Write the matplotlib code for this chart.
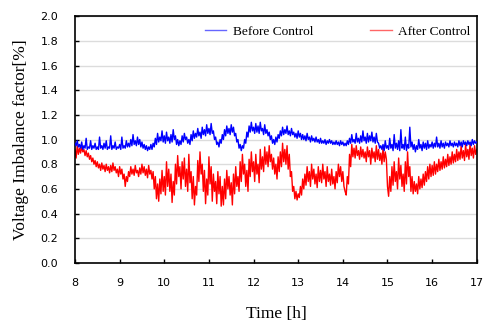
import numpy as np
import matplotlib
matplotlib.use("Agg")
import matplotlib.pyplot as plt

# Voltage imbalance factor [%], sampled every 0.025 h from 8:00 to 17:00
before_control = [
    0.97, 0.95, 0.99, 0.94, 0.96, 0.93, 0.98, 0.92, 0.95, 0.93, 1.01, 0.92, 0.94, 0.93, 0.99, 0.92, 0.95, 0.93, 0.97, 0.92,
    0.94, 0.92, 1.02, 0.93, 0.95, 0.92, 0.97, 0.93, 0.99, 0.92, 0.94, 0.93, 1.03, 0.92, 0.95, 0.93, 0.98, 0.92, 0.94, 0.93,
    0.96, 0.92, 1.02, 0.93, 0.95, 0.93, 0.99, 0.94, 0.97, 0.94, 1.00, 0.95, 1.04, 0.96, 0.99, 0.95, 1.02, 0.96, 1.00, 0.94,
    0.98, 0.93, 0.96, 0.92, 0.95, 0.91, 0.94, 0.92, 0.96, 0.92, 0.97, 0.94, 1.01, 0.96, 1.05, 0.98, 1.02, 0.99, 1.07, 0.98,
    1.03, 0.97, 1.06, 0.99, 1.02, 0.97, 1.04, 0.98, 1.08, 1.00, 1.03, 0.96, 1.00, 0.95, 0.99, 0.96, 1.03, 0.98, 1.05, 1.00,
    1.02, 0.97, 1.00, 0.96, 1.04, 0.99, 1.07, 1.01, 1.05, 1.02, 1.09, 1.03, 1.06, 1.01, 1.10, 1.04, 1.08, 1.03, 1.12, 1.05,
    1.09, 1.04, 1.13, 1.05, 1.07, 1.00, 1.02, 0.96, 0.98, 0.94, 1.00, 0.97, 1.04, 1.00, 1.08, 1.03, 1.11, 1.05, 1.09, 1.04,
    1.12, 1.06, 1.10, 1.03, 1.05, 0.98, 1.00, 0.93, 0.96, 0.91, 0.95, 0.93, 1.00, 0.97, 1.06, 1.02, 1.11, 1.06, 1.14, 1.07,
    1.10, 1.05, 1.13, 1.06, 1.11, 1.05, 1.14, 1.07, 1.09, 1.04, 1.12, 1.05, 1.08, 1.03, 1.06, 1.00, 1.03, 0.97, 1.00, 0.96,
    1.02, 0.98, 1.04, 1.01, 1.07, 1.03, 1.10, 1.04, 1.08, 1.05, 1.11, 1.04, 1.07, 1.03, 1.09, 1.04, 1.06, 1.02, 1.05, 1.01,
    1.07, 1.02, 1.05, 1.00, 1.04, 1.00, 1.03, 0.99, 1.05, 1.00, 1.02, 0.98, 1.03, 0.99, 1.01, 0.98, 1.02, 0.98, 1.00, 0.97,
    1.01, 0.97, 0.99, 0.97, 1.00, 0.96, 0.99, 0.97, 1.00, 0.97, 0.99, 0.96, 0.98, 0.96, 0.99, 0.96, 0.98, 0.95, 0.99, 0.96,
    0.98, 0.95, 0.97, 0.95, 0.99, 0.96, 1.01, 0.97, 1.04, 0.98, 1.00, 0.97, 1.05, 0.98, 1.01, 0.97, 1.03, 0.98, 1.07, 0.99,
    1.02, 0.97, 1.05, 0.98, 1.03, 0.99, 1.06, 0.98, 1.02, 0.97, 1.05, 0.98, 0.97, 0.93, 0.95, 0.92, 0.96, 0.91, 0.99, 0.93,
    0.95, 0.92, 1.01, 0.93, 0.96, 0.91, 1.04, 0.93, 0.97, 0.92, 0.99, 0.91, 1.08, 0.93, 0.96, 0.92, 1.02, 0.91, 0.96, 0.93,
    1.10, 0.94, 0.98, 0.92, 0.96, 0.90, 0.95, 0.92, 1.00, 0.93, 0.96, 0.91, 0.98, 0.93, 0.97, 0.92, 0.99, 0.93, 0.96, 0.94,
    0.98, 0.93, 0.97, 0.94, 1.02, 0.94, 0.97, 0.93, 0.99, 0.94, 0.97, 0.93, 0.98, 0.95, 0.97, 0.94, 0.99, 0.95, 0.97, 0.94,
    0.98, 0.95, 0.97, 0.94, 0.99, 0.95, 0.98, 0.94, 0.99, 0.96, 0.98, 0.95, 0.99, 0.96, 0.98, 0.95, 1.00, 0.96, 0.99, 0.97,
    0.98,
]
after_control = [
    0.92, 0.85, 0.95, 0.88, 0.93, 0.89, 0.94, 0.90, 0.92, 0.87, 0.91, 0.86, 0.89, 0.84, 0.87, 0.82, 0.85, 0.80, 0.83, 0.78,
    0.82, 0.77, 0.80, 0.75, 0.81, 0.76, 0.79, 0.74, 0.80, 0.75, 0.78, 0.73, 0.79, 0.74, 0.81, 0.75, 0.78, 0.73, 0.76, 0.70,
    0.78, 0.72, 0.76, 0.68, 0.72, 0.62, 0.70, 0.66, 0.74, 0.70, 0.78, 0.72, 0.76, 0.71, 0.79, 0.73, 0.75, 0.70, 0.77, 0.72,
    0.80, 0.73, 0.78, 0.71, 0.76, 0.69, 0.79, 0.72, 0.75, 0.68, 0.74, 0.60, 0.70, 0.52, 0.64, 0.50, 0.68, 0.56, 0.75, 0.58,
    0.70, 0.55, 0.82, 0.62, 0.76, 0.58, 0.72, 0.49, 0.66, 0.55, 0.80, 0.64, 0.87, 0.70, 0.78, 0.60, 0.82, 0.68, 0.85, 0.62,
    0.76, 0.58, 0.88, 0.65, 0.74, 0.52, 0.70, 0.47, 0.62, 0.55, 0.83, 0.66, 0.90, 0.72, 0.80, 0.58, 0.75, 0.48, 0.68, 0.55,
    0.86, 0.64, 0.78, 0.50, 0.72, 0.58, 0.66, 0.48, 0.74, 0.56, 0.70, 0.46, 0.62, 0.47, 0.68, 0.52, 0.75, 0.60, 0.70, 0.55,
    0.65, 0.47, 0.72, 0.56, 0.78, 0.62, 0.70, 0.58, 0.82, 0.66, 0.88, 0.72, 0.80, 0.62, 0.75, 0.58, 0.84, 0.70, 0.90, 0.74,
    0.82, 0.66, 0.88, 0.72, 0.80, 0.65, 0.92, 0.76, 0.86, 0.74, 0.94, 0.80, 0.90, 0.78, 0.95, 0.82, 0.88, 0.76, 0.85, 0.72,
    0.80, 0.68, 0.86, 0.74, 0.90, 0.78, 0.97, 0.82, 0.92, 0.80, 0.95, 0.76, 0.88, 0.70, 0.74, 0.58, 0.62, 0.52, 0.58, 0.51,
    0.56, 0.53, 0.62, 0.55, 0.68, 0.60, 0.72, 0.63, 0.78, 0.66, 0.74, 0.62, 0.80, 0.68, 0.76, 0.64, 0.72, 0.61, 0.78, 0.66,
    0.75, 0.65, 0.80, 0.68, 0.74, 0.62, 0.78, 0.66, 0.72, 0.63, 0.76, 0.64, 0.70, 0.60, 0.74, 0.65, 0.80, 0.70, 0.78, 0.66,
    0.74, 0.62, 0.58, 0.55, 0.70, 0.64, 0.88, 0.78, 0.96, 0.86, 0.93, 0.85, 0.95, 0.87, 0.91, 0.84, 0.94, 0.86, 0.92, 0.85,
    0.90, 0.82, 0.94, 0.86, 0.91, 0.80, 0.93, 0.85, 0.90, 0.82, 0.95, 0.84, 0.92, 0.83, 0.89, 0.80, 0.93, 0.82, 0.90, 0.84,
    0.62, 0.54, 0.70, 0.58, 0.78, 0.63, 0.82, 0.66, 0.74, 0.60, 0.85, 0.68, 0.79, 0.62, 0.72, 0.58, 0.82, 0.64, 0.90, 0.70,
    0.78, 0.58, 0.70, 0.56, 0.66, 0.58, 0.64, 0.56, 0.70, 0.60, 0.68, 0.61, 0.72, 0.63, 0.74, 0.66, 0.78, 0.68, 0.80, 0.70,
    0.79, 0.71, 0.82, 0.72, 0.80, 0.74, 0.84, 0.75, 0.82, 0.76, 0.86, 0.77, 0.84, 0.78, 0.88, 0.79, 0.86, 0.80, 0.90, 0.81,
    0.88, 0.82, 0.92, 0.83, 0.90, 0.84, 0.95, 0.85, 0.91, 0.83, 0.96, 0.86, 0.92, 0.84, 0.97, 0.87, 0.93, 0.85, 0.95, 0.88,
    0.92,
]
t_start, t_end = 8, 17
x_ticks = list(range(8, 18))
y_ticks = [0.0, 0.2, 0.4, 0.6, 0.8, 1.0, 1.2, 1.4, 1.6, 1.8, 2.0]

serif = ["Liberation Serif", "DejaVu Serif"]

fig = plt.figure(figsize=(4.87, 3.23), dpi=100)
ax = fig.add_axes([0.154, 0.186, 0.825, 0.764])

time_b = np.linspace(t_start, t_end, len(before_control))
time_a = np.linspace(t_start, t_end, len(after_control))
ax.plot(time_b, before_control, color="#0000ff", lw=1.0, label="Before Control", zorder=3)
ax.plot(time_a, after_control, color="#ff0000", lw=1.0, label="After Control", zorder=2)

ax.set_xlim(t_start, t_end)
ax.set_ylim(0, 2.0)
ax.set_xticks(x_ticks)
ax.set_yticks(y_ticks)
ax.set_yticklabels([f"{v:.1f}" for v in y_ticks])
ax.yaxis.grid(True, color="#dcdcdc", lw=1.0)
ax.set_axisbelow(True)
ax.tick_params(axis="both", direction="in", length=3, width=1, labelsize=8)
ax.tick_params(axis="y", pad=12)
ax.tick_params(axis="x", pad=11)
for sp in ax.spines.values():
    sp.set_linewidth(1.2)

ax.set_xlabel("Time [h]", family=serif, fontsize=12.5, labelpad=13)
ax.set_ylabel("Voltage Imbalance factor[%]", family=serif, fontsize=12.5, labelpad=8)

leg = ax.legend(loc="upper right", bbox_to_anchor=(1.015, 1.012), ncol=2, frameon=False,
                handlelength=1.6, handletextpad=0.5, columnspacing=4.3,
                prop={"family": serif, "size": 9.6})
for h in leg.get_lines():
    h.set_alpha(0.6)

fig.savefig("out.png", dpi=100)
